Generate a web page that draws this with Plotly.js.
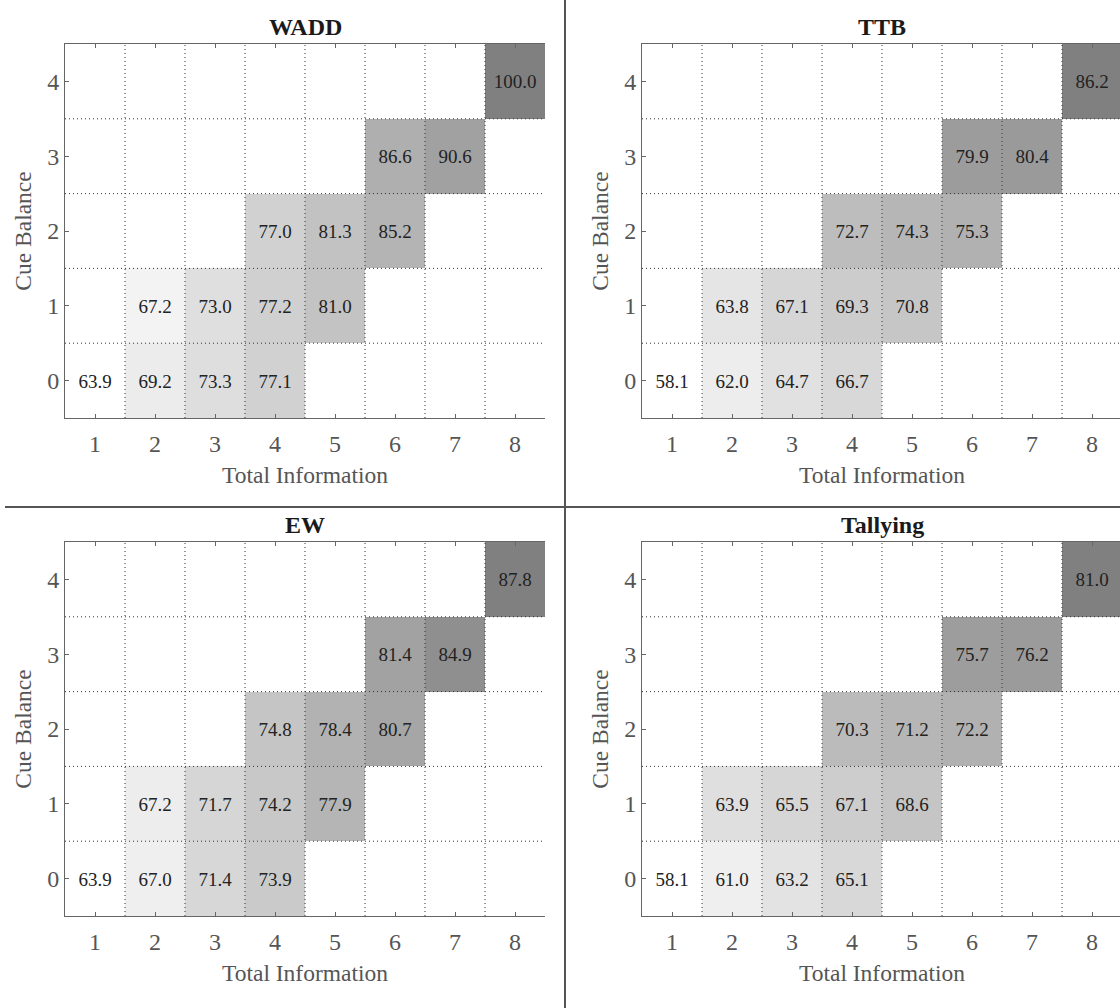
<!DOCTYPE html>
<html>
<head>
<meta charset="utf-8">
<script src="https://cdn.plot.ly/plotly-3.0.1.min.js"></script>
<style>
  html, body { margin: 0; padding: 0; background: #ffffff; overflow: hidden; }
  #chart { width: 1124px; height: 1008px; }
</style>
</head>
<body>
<div id="chart"></div>
<script>
// Axis categories
const totalInfo = [1, 2, 3, 4, 5, 6, 7, 8];
const cueBalance = [0, 1, 2, 3, 4];
const panelNames = ['WADD', 'TTB', 'EW', 'Tallying'];

// Accuracy (%) per cell; rows follow cueBalance, columns follow totalInfo
const waddRows = [
  [63.9, 69.2, 73.3, 77.1, null, null, null, null],
  [null, 67.2, 73.0, 77.2, 81.0, null, null, null],
  [null, null, null, 77.0, 81.3, 85.2, null, null],
  [null, null, null, null, null, 86.6, 90.6, null],
  [null, null, null, null, null, null, null, 100.0]
];
const ttbRows = [
  [58.1, 62.0, 64.7, 66.7, null, null, null, null],
  [null, 63.8, 67.1, 69.3, 70.8, null, null, null],
  [null, null, null, 72.7, 74.3, 75.3, null, null],
  [null, null, null, null, null, 79.9, 80.4, null],
  [null, null, null, null, null, null, null, 86.2]
];
const ewRows = [
  [63.9, 67.0, 71.4, 73.9, null, null, null, null],
  [null, 67.2, 71.7, 74.2, 77.9, null, null, null],
  [null, null, null, 74.8, 78.4, 80.7, null, null],
  [null, null, null, null, null, 81.4, 84.9, null],
  [null, null, null, null, null, null, null, 87.8]
];
const tallyingRows = [
  [58.1, 61.0, 63.2, 65.1, null, null, null, null],
  [null, 63.9, 65.5, 67.1, 68.6, null, null, null],
  [null, null, null, 70.3, 71.2, 72.2, null, null],
  [null, null, null, null, null, 75.7, 76.2, null],
  [null, null, null, null, null, null, null, 81.0]
];
const panelRows = [waddRows, ttbRows, ewRows, tallyingRows];

// Page geometry (px)
const W = 1124, H = 1008;
const SERIF = 'Liberation Serif, Times New Roman, serif';
const plotBoxes = [
  { l: 65,  r: 545,  t: 44,  b: 418 },
  { l: 642, r: 1122, t: 44,  b: 418 },
  { l: 65,  r: 545,  t: 542, b: 916 },
  { l: 642, r: 1122, t: 542, b: 916 }
];

const traces = [];
const layout = {
  width: W,
  height: H,
  margin: { l: 0, r: 0, t: 0, b: 0 },
  paper_bgcolor: '#ffffff',
  plot_bgcolor: '#ffffff',
  showlegend: false,
  font: { family: SERIF, color: '#4d4d4d' },
  shapes: [],
  annotations: []
};

const tickFont = { family: SERIF, size: 24, color: '#555555' };
const titleFont = { family: SERIF, size: 23.5, color: '#555555' };

panelRows.forEach((rows, i) => {
  const n = i === 0 ? '' : String(i + 1);
  const xa = 'x' + n, ya = 'y' + n;
  const box = plotBoxes[i];

  traces.push({
    type: 'heatmap',
    x: totalInfo,
    y: cueBalance,
    z: rows,
    text: rows.map(r => r.map(v => (v === null ? '' : v.toFixed(1)))),
    texttemplate: '%{text}',
    textfont: { family: SERIF, size: 19, color: '#222222' },
    colorscale: [[0, '#ffffff'], [1, '#808080']],
    showscale: false,
    hoverinfo: 'skip',
    xaxis: xa,
    yaxis: ya
  });

  layout['xaxis' + n] = {
    domain: [box.l / W, box.r / W],
    anchor: ya,
    range: [0.5, 8.5],
    tickmode: 'array',
    tickvals: totalInfo,
    ticktext: totalInfo.map(String),
    ticks: 'inside',
    ticklen: 4,
    tickwidth: 1,
    tickcolor: '#666666',
    showline: true,
    linecolor: '#666666',
    linewidth: 1,
    mirror: 'ticks',
    showgrid: false,
    zeroline: false,
    tickfont: tickFont,
    ticklabelstandoff: 4,
    title: { text: 'Total Information', font: titleFont, standoff: 10 },
    fixedrange: true
  };
  layout['yaxis' + n] = {
    domain: [1 - box.b / H, 1 - box.t / H],
    anchor: xa,
    range: [-0.5, 4.5],
    tickmode: 'array',
    tickvals: cueBalance,
    ticktext: cueBalance.map(String),
    ticks: 'inside',
    ticklen: 4,
    tickwidth: 1,
    tickcolor: '#666666',
    showline: true,
    linecolor: '#666666',
    linewidth: 1,
    mirror: false,
    showgrid: false,
    zeroline: false,
    tickfont: tickFont,
    ticklabelstandoff: 0,
    title: { text: 'Cue Balance', font: titleFont, standoff: 8 },
    fixedrange: true
  };

  // Dotted cell boundaries drawn over the cells
  const dotted = { color: '#333333', width: 1, dash: '1px,3px' };
  for (let k = 0; k < totalInfo.length - 1; k++) {
    const xb = (totalInfo[k] + totalInfo[k + 1]) / 2;
    layout.shapes.push({
      type: 'line', layer: 'above',
      xref: xa, yref: ya + ' domain',
      x0: xb, x1: xb, y0: 0, y1: 1,
      line: dotted
    });
  }
  for (let k = 0; k < cueBalance.length - 1; k++) {
    const yb = (cueBalance[k] + cueBalance[k + 1]) / 2;
    layout.shapes.push({
      type: 'line', layer: 'above',
      xref: xa + ' domain', yref: ya,
      x0: 0, x1: 1, y0: yb, y1: yb,
      line: dotted
    });
  }

  layout.annotations.push({
    text: '<b>' + panelNames[i] + '</b>',
    xref: xa + ' domain', yref: ya + ' domain',
    x: 0.5, y: 1, xanchor: 'center', yanchor: 'bottom',
    yshift: 2,
    showarrow: false,
    font: { family: SERIF, size: 24, color: '#1a1a1a' }
  });
});

// Panel separators
layout.shapes.push({
  type: 'line', layer: 'above', xref: 'paper', yref: 'paper',
  x0: 565 / W, x1: 565 / W, y0: 0, y1: 1,
  line: { color: '#555555', width: 2 }
});
layout.shapes.push({
  type: 'line', layer: 'above', xref: 'paper', yref: 'paper',
  x0: 5 / W, x1: 1, y0: 1 - 507 / H, y1: 1 - 507 / H,
  line: { color: '#555555', width: 2 }
});

Plotly.newPlot('chart', traces, layout, { displayModeBar: false, staticPlot: true });
</script>
</body>
</html>
